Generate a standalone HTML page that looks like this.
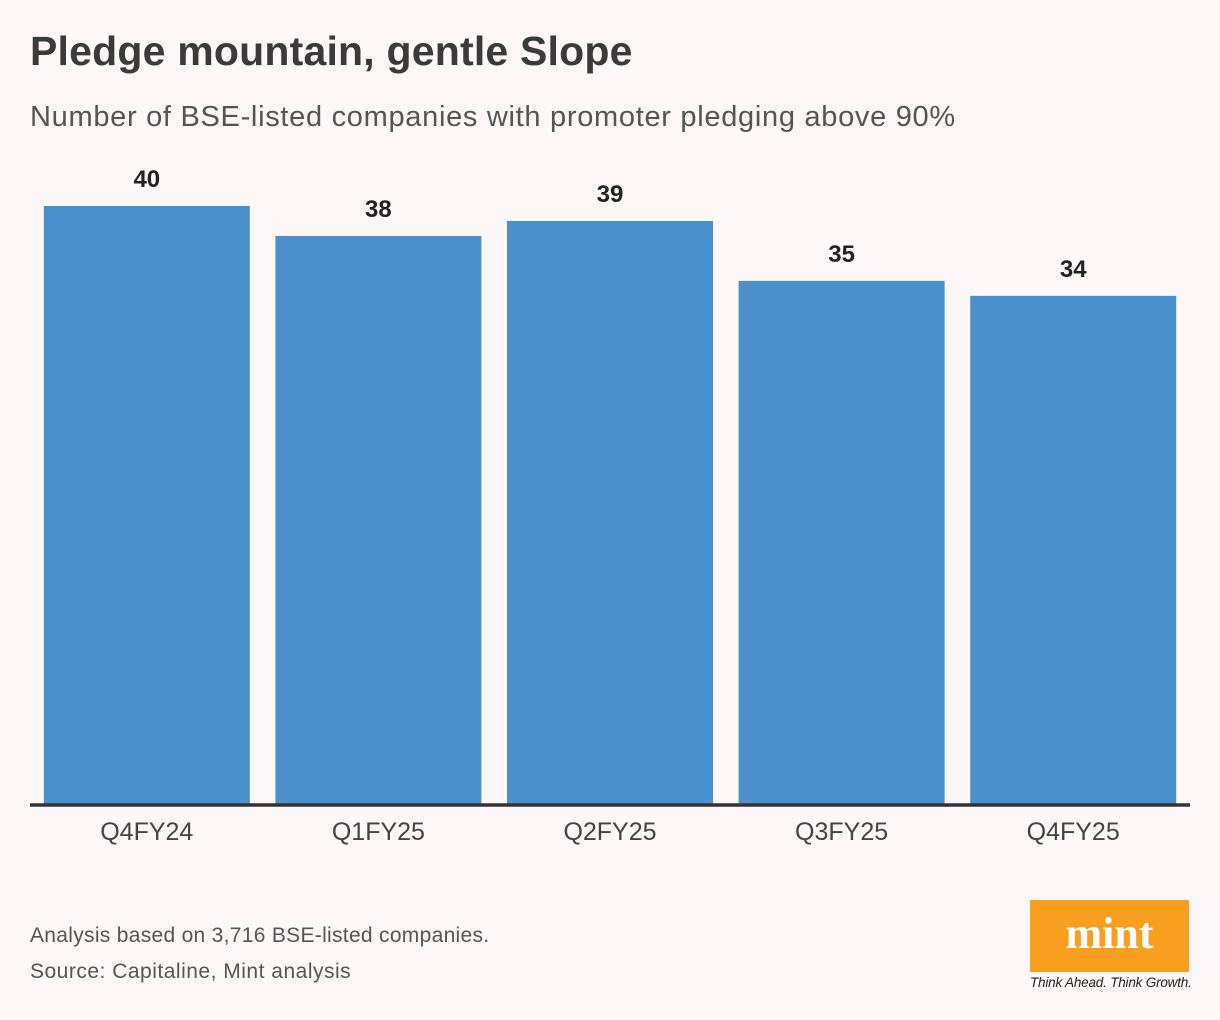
<!DOCTYPE html>
<html><head><meta charset="utf-8"><style>
body{margin:0;background:#fdf8f7;font-family:"Liberation Sans",sans-serif;}
#wrap{position:relative;width:1220px;height:1020px;overflow:hidden;background:#fdf8f7}
.t{position:absolute;white-space:nowrap}
</style></head><body>
<div id="wrap">
<div class="t" style="left:30px;top:28px;font-size:41px;font-weight:bold;color:#3a3a3a;letter-spacing:0.2px">Pledge mountain, gentle Slope</div>
<div class="t" style="left:30px;top:101px;font-size:29px;color:#555;letter-spacing:0.7px">Number of BSE-listed companies with promoter pledging above 90%</div>
<svg id="chart" width="1220" height="870" style="position:absolute;left:0;top:0"></svg>
<div class="t" style="left:30px;top:924px;font-size:21px;color:#555;letter-spacing:0.3px">Analysis based on 3,716 BSE-listed companies.</div>
<div class="t" style="left:30px;top:960px;font-size:21px;color:#555;letter-spacing:0.5px">Source: Capitaline, Mint analysis</div>
<div style="position:absolute;left:1030px;top:900px;width:159px;height:72px;background:#f89f1f;color:#fff;font-family:'Liberation Serif',serif;font-weight:bold;font-size:44px;text-align:center;line-height:68px">mint</div>
<div class="t" style="left:1030px;top:975px;font-size:13.5px;font-style:italic;color:#222;letter-spacing:-0.2px">Think Ahead. Think Growth.</div>
</div>
<script>
const categories=["Q4FY24","Q1FY25","Q2FY25","Q3FY25","Q4FY25"];
const values=[40,38,39,35,34];
const svg=document.getElementById('chart');
const NS='http://www.w3.org/2000/svg';
const y0=805,yTop=206,vMax=40;
const yScale=v=>y0-(v/vMax)*(y0-yTop);
const left=31,right=1189,step=(right-left)/categories.length,bw=206;
const xScale=i=>left+i*step+(step-bw)/2;
categories.forEach((c,i)=>{
  const r=document.createElementNS(NS,'rect');
  r.setAttribute('x',xScale(i));r.setAttribute('y',yScale(values[i]));
  r.setAttribute('width',bw);r.setAttribute('height',y0-yScale(values[i]));
  r.setAttribute('fill','#4a90cc');
  
  
  svg.appendChild(r);
  const t=document.createElementNS(NS,'text');
  t.setAttribute('x',xScale(i)+bw/2);t.setAttribute('y',yScale(values[i])-19);
  t.setAttribute('text-anchor','middle');t.setAttribute('font-size','24');t.setAttribute('font-weight','bold');t.setAttribute('fill','#222');
  t.setAttribute('font-family','Liberation Sans, sans-serif');
  t.textContent=values[i];
  
  
  svg.appendChild(t);
  const l=document.createElementNS(NS,'text');
  l.setAttribute('x',xScale(i)+bw/2);l.setAttribute('y',840);
  l.setAttribute('text-anchor','middle');l.setAttribute('font-size','25');l.setAttribute('fill','#444');
  l.setAttribute('font-family','Liberation Sans, sans-serif');
  l.textContent=c;
  
  
  svg.appendChild(l);
});
const ax=document.createElementNS(NS,'line');
ax.setAttribute('x1',30);ax.setAttribute('x2',1190);ax.setAttribute('y1',y0);ax.setAttribute('y2',y0);
ax.setAttribute('stroke','#333');ax.setAttribute('stroke-width','3.5');


svg.appendChild(ax);
</script>
</body></html>
